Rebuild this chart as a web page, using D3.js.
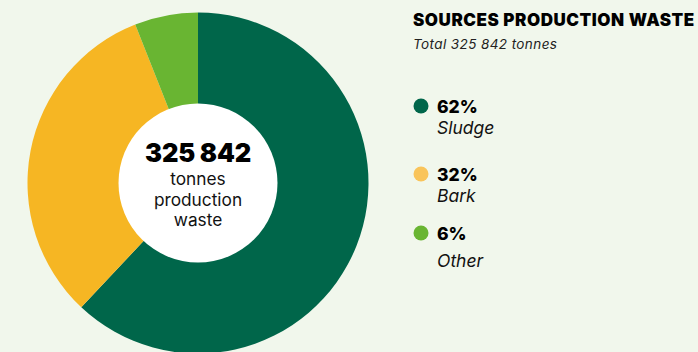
<!DOCTYPE html>
<html><head><meta charset="utf-8">
<script src="https://cdn.jsdelivr.net/npm/d3@7"></script>
<style>
html,body{margin:0;padding:0;background:#f1f7ec;}
svg{display:block;font-family:Inter, "Noto Sans", sans-serif;}
</style></head>
<body>
<svg id="chart" width="698" height="352"></svg>
<script>
const categories = ["Sludge", "Bark", "Other"];
const shares = [62, 32, 6];
const percentLabels = ["62%", "32%", "6%"];
const colors = ["#00664a", "#f6b623", "#69b532"];
const legendColors = ["#00664a", "#f9c45a", "#69b532"];
const title = "SOURCES PRODUCTION WASTE";
const subtitle = "Total 325 842 tonnes";
const centerValue = "325 842";
const centerLines = ["tonnes", "production", "waste"];

const svg = d3.select("#chart");
const cx = 198, cy = 183, rOuter = 170.5, rInner = 79.5;

const pie = d3.pie().sort(null).value(d => d)(shares);
const arc = d3.arc().innerRadius(rInner - 1).outerRadius(rOuter);
const g = svg.append("g").attr("transform", `translate(${cx},${cy})`);
g.selectAll("path").data(pie).join("path")
  .attr("d", arc).attr("fill", (d, i) => colors[i]);
g.append("circle").attr("r", rInner).attr("fill", "#ffffff");
g.append("text").attr("text-anchor", "middle").attr("y", -21)
  .attr("font-size", 25.5).attr("font-weight", 900).attr("fill", "#000")
  .attr("letter-spacing", -0.2)
  .text(centerValue);
centerLines.forEach((t, i) => {
  g.append("text").attr("text-anchor", "middle").attr("y", 2 + i * 20.5)
    .attr("font-size", 17.3).attr("font-weight", 400).attr("fill", "#111")
    .text(t);
});

svg.append("text").attr("x", 413).attr("y", 26)
  .attr("font-size", 17).attr("font-weight", 900).attr("fill", "#000")
  .attr("letter-spacing", 0.55)
  .text(title);
svg.append("text").attr("x", 413).attr("y", 49)
  .attr("font-size", 13.5).attr("font-style", "italic").attr("fill", "#222")
  .attr("letter-spacing", 0.4)
  .text(subtitle);

const legendDotY = [106, 174, 233];
const legendLabelDy = [28, 28, 34];
categories.forEach((c, i) => {
  const y = legendDotY[i];
  svg.append("circle").attr("cx", 421).attr("cy", y).attr("r", 7.5).attr("fill", legendColors[i]);
  svg.append("text").attr("x", 437).attr("y", y + 7)
    .attr("font-size", 17.5).attr("font-weight", 800).attr("fill", "#000").text(percentLabels[i]);
  svg.append("text").attr("x", 437).attr("y", y + legendLabelDy[i])
    .attr("font-size", 17.5).attr("font-style", "italic").attr("fill", "#111").text(c);
});
</script>
</body></html>
